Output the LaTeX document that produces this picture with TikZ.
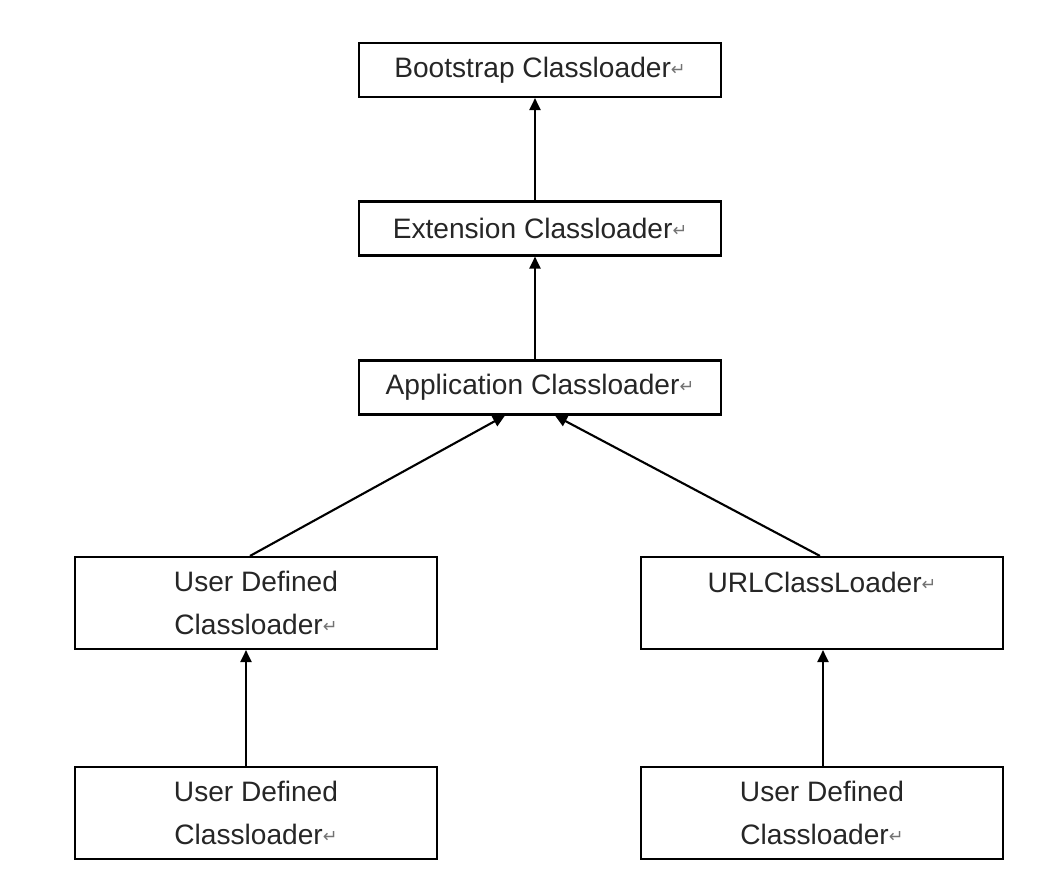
\documentclass[tikz,border=0pt]{standalone}
\usepackage{fontspec}
\setmainfont{Liberation Sans}
\newfontfamily\symfont{DejaVu Sans}
\usetikzlibrary{arrows.meta}

\newcommand{\retmark}{{\symfont\fontsize{5}{5}\selectfont\color{black!55}\raisebox{0.2ex}{↵}}}

\tikzset{
  loader/.style={draw, line width=0.6pt, minimum width=3.62cm, minimum height=0.54cm,
    align=center, inner sep=0pt, font=\fontsize{8}{12}\selectfont, text=black!85},
  tall/.style={minimum height=0.92cm},
  up/.style={-{Triangle[length=1.2mm,width=1.1mm]}, line width=0.6pt}
}

\begin{document}
\begin{tikzpicture}
\useasboundingbox (0,0) rectangle (10.44,8.94);

\node[loader] (boot) at (5.40,8.24) {Bootstrap Classloader\retmark};
\node[loader] (ext) at (5.40,6.655) {Extension Classloader\retmark};
\node[loader] (app) at (5.40,5.065) {Application Classloader\retmark};
\node[loader,tall] (udef) at (2.56,2.91) {User Defined\\Classloader\retmark};
\node[loader,tall] (url) at (8.22,2.91) {URLClassLoader\retmark\\\mbox{}};
\node[loader,tall] (udefa) at (2.56,0.81) {User Defined\\Classloader\retmark};
\node[loader,tall] (udefb) at (8.22,0.81) {User Defined\\Classloader\retmark};

\draw[up] ([xshift=-0.5mm]ext.north) -- ([xshift=-0.5mm]boot.south);
\draw[up] ([xshift=-0.5mm]app.north) -- ([xshift=-0.5mm]ext.south);
\draw[up] ([xshift=-0.6mm]udef.north) -- ([xshift=-3.5mm]app.south);
\draw[up] ([xshift=-0.2mm]url.north) -- ([xshift=1.5mm]app.south);
\draw[up] ([xshift=-1mm]udefa.north) -- ([xshift=-1mm]udef.south);
\draw[up] ([xshift=0.1mm]udefb.north) -- ([xshift=0.1mm]url.south);
\end{tikzpicture}
\end{document}
